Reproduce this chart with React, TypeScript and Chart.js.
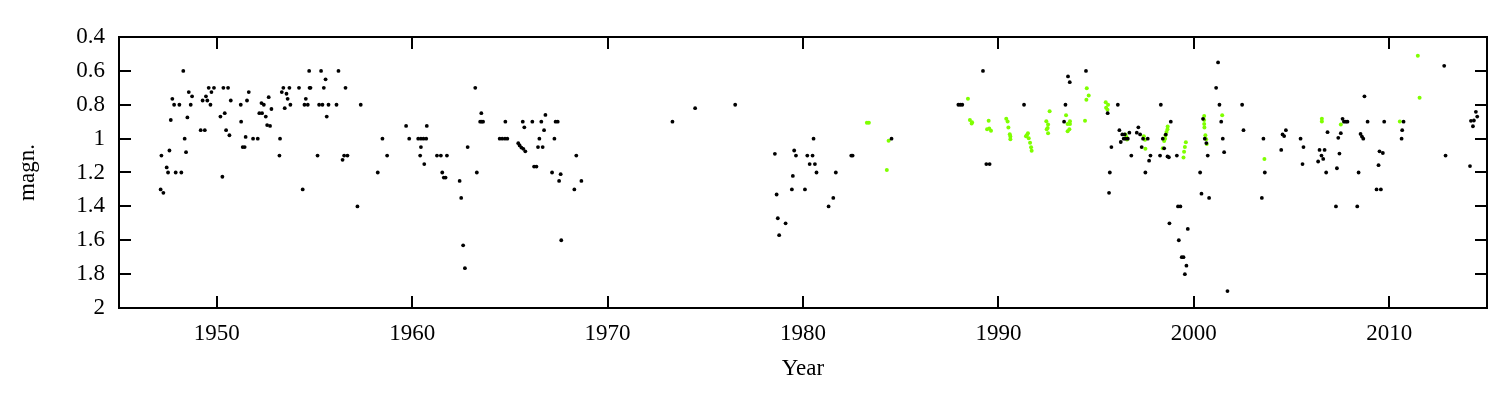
import React, { useEffect, useRef } from "react";
import { Chart, registerables } from "chart.js";

Chart.register(...registerables);

// X axis: year, Y axis: magnitude (reversed)
const xTickValues = [1950, 1960, 1970, 1980, 1990, 2000, 2010];
const yTickValues = [0.4, 0.6, 0.8, 1, 1.2, 1.4, 1.6, 1.8, 2];
const yTickLabels = ["0.4", "0.6", "0.8", "1", "1.2", "1.4", "1.6", "1.8", "2"];

// Black series
const blackYear = [
  1947.13, 1947.27, 1947.17, 1947.44, 1947.51, 1947.58, 1947.65, 1947.73, 1947.82, 1947.90,
  1948.09, 1948.19, 1948.29, 1948.36, 1948.43, 1948.50, 1948.57, 1948.67, 1948.74, 1949.18,
  1949.39, 1949.28, 1949.45, 1949.52, 1949.59, 1949.73, 1949.68, 1949.86, 1950.19, 1950.29,
  1950.34, 1950.41, 1950.48, 1950.58, 1950.65, 1950.72, 1951.23, 1951.25, 1951.33, 1951.43,
  1951.48, 1951.55, 1951.64, 1951.86, 1952.10, 1952.18, 1952.32, 1952.29, 1952.41, 1952.51,
  1952.58, 1952.73, 1952.66, 1952.80, 1953.21, 1953.24, 1953.33, 1953.41, 1953.48, 1953.57,
  1953.63, 1953.72, 1953.77, 1954.21,
  1954.40, 1954.56, 1954.49, 1954.66, 1954.73, 1954.75, 1954.80, 1955.16, 1955.24, 1955.41,
  1955.34, 1955.48, 1955.57, 1955.63, 1955.72, 1956.13, 1956.23, 1956.44, 1956.52, 1956.69,
  1956.59, 1957.20, 1957.37, 1958.24, 1958.48, 1958.72, 1959.69, 1959.85, 1960.31, 1960.45,
  1960.58, 1960.72, 1960.75, 1960.45, 1960.41, 1960.62, 1961.27, 1961.47, 1961.78, 1961.54,
  1961.62, 1961.71, 1962.43, 1962.51, 1962.84, 1962.61, 1962.70, 1963.23, 1963.31,
  1963.54, 1963.48, 1963.56, 1963.63, 1964.77, 1964.48, 1964.61, 1964.75, 1964.87, 1965.43,
  1965.50, 1965.59, 1965.69, 1965.79, 1965.66, 1965.74, 1966.15, 1966.24, 1966.36, 1966.51,
  1966.44, 1966.68, 1966.61, 1966.75, 1966.82, 1967.34, 1967.45, 1967.28, 1967.16, 1967.52,
  1967.60, 1967.63, 1968.30, 1968.40, 1968.66,
  1973.32, 1974.48, 1976.53,
  1978.56, 1978.65, 1978.71, 1978.78, 1979.11, 1979.43, 1979.48, 1979.55, 1979.64, 1980.10,
  1980.22, 1980.49, 1980.34, 1980.61, 1980.54, 1980.69, 1981.31, 1981.55, 1981.68, 1982.47,
  1982.54, 1984.53,
  1987.95, 1988.05, 1988.15, 1989.21, 1989.38, 1989.55, 1991.31, 1993.43, 1993.36, 1993.56,
  1993.65, 1994.48, 1995.59, 1995.70, 1995.66,
  1995.78, 1996.11, 1996.19, 1996.26, 1996.34, 1996.46, 1996.41, 1996.50, 1996.62, 1996.70,
  1996.80, 1997.08, 1997.16, 1997.25, 1997.40, 1997.33, 1997.52, 1997.64, 1997.71, 1997.78,
  1998.31, 1998.27, 1998.41, 1998.48, 1998.56, 1998.65, 1998.72, 1998.82, 1999.13, 1999.19,
  1999.31, 1998.75, 1999.23, 1999.69, 1999.38, 1999.47, 1999.62, 1999.54, 2000.32, 2000.39,
  2000.78, 2000.47, 2000.56, 2000.64, 2000.71, 2001.14, 2001.24, 2001.31, 2001.40, 2001.48,
  2001.55, 2001.72, 2002.47, 2002.54,
  2003.48, 2003.56, 2003.63, 2004.47, 2004.54, 2004.62, 2004.71, 2005.46, 2005.56, 2005.61,
  2006.36, 2006.43, 2006.69, 2006.53, 2006.62, 2006.77, 2006.84, 2007.27, 2007.32, 2007.39,
  2007.45, 2007.52, 2007.61, 2007.68, 2007.78, 2007.86, 2008.36, 2008.43, 2008.53, 2008.60,
  2008.67, 2008.73, 2008.89, 2009.35, 2009.57, 2009.45, 2009.50, 2009.67, 2009.74, 2010.63,
  2010.66, 2010.73, 2012.81, 2012.88, 2014.13, 2014.18, 2014.33, 2014.28, 2014.43, 2014.50,
];
const blackMag = [
  1.30, 1.32, 1.10, 1.17, 1.20, 1.07, 0.89, 0.765, 0.80, 1.20,
  0.80, 1.20, 0.60, 1.00, 1.08, 0.875, 0.725, 0.80, 0.75, 0.95,
  0.95, 0.775, 0.75, 0.775, 0.70, 0.725, 0.80, 0.70, 0.87, 1.225,
  0.70, 0.85, 0.95, 0.70, 0.98, 0.775, 0.80, 0.90, 1.05, 1.05,
  0.99, 0.775, 0.725, 1.00, 1.00, 0.85, 0.85, 0.79, 0.80, 0.87,
  0.92, 0.925, 0.755, 0.825, 1.10, 1.00, 0.725, 0.70, 0.82, 0.735,
  0.765, 0.70, 0.80, 0.70,
  1.30, 0.765, 0.80, 0.80, 0.60, 0.70, 0.70, 1.10, 0.80, 0.80,
  0.60, 0.70, 0.65, 0.87, 0.80, 0.80, 0.60, 1.125, 1.10, 1.10,
  0.70, 1.40, 0.80, 1.20, 1.00, 1.10, 0.925, 1.00, 1.00, 1.00,
  1.00, 1.00, 0.925, 1.05, 1.10, 1.15, 1.10, 1.10, 1.10, 1.20,
  1.23, 1.23, 1.25, 1.35, 1.05, 1.63, 1.765, 0.70, 1.20,
  0.85, 0.90, 0.90, 0.90, 0.90, 1.00, 1.00, 1.00, 1.00, 1.027,
  1.04, 1.053, 1.06, 1.075, 0.90, 0.933, 0.90, 1.165, 1.165, 1.00,
  1.05, 1.05, 0.90, 0.95, 0.86, 0.90, 0.90, 1.00, 1.20, 1.25,
  1.21, 1.60, 1.30, 1.10, 1.25,
  0.90, 0.82, 0.80,
  1.09, 1.33, 1.47, 1.57, 1.50, 1.30, 1.22, 1.07, 1.10, 1.30,
  1.10, 1.10, 1.15, 1.15, 1.00, 1.20, 1.40, 1.35, 1.20, 1.10,
  1.10, 1.00,
  0.80, 0.80, 0.80, 0.60, 1.15, 1.15, 0.80, 0.80, 0.90, 0.633,
  0.667, 0.60, 0.85, 1.20, 1.32,
  1.05, 0.80, 0.95, 1.02, 0.975, 0.975, 1.00, 1.00, 1.00, 0.965,
  1.10, 0.965, 0.933, 0.975, 1.00, 1.05, 1.20, 1.00, 1.13, 1.10,
  0.80, 1.10, 1.00, 1.057, 0.976, 1.105, 1.11, 0.90, 1.10, 1.40,
  1.40, 1.50, 1.60, 1.533, 1.70, 1.70, 1.75, 1.80, 1.20, 1.325,
  1.35, 0.883, 1.00, 1.026, 1.10, 0.70, 0.55, 0.80, 0.90, 1.00,
  1.08, 1.90, 0.80, 0.95,
  1.35, 1.00, 1.20, 1.067, 0.975, 0.985, 0.95, 1.00, 1.15, 1.05,
  1.135, 1.067, 1.067, 1.10, 1.12, 1.20, 0.962, 1.40, 1.175, 0.995,
  1.088, 0.968, 0.883, 0.90, 0.90, 0.90, 1.40, 1.20, 0.972, 0.988,
  1.00, 0.75, 0.90, 1.30, 1.30, 1.157, 1.075, 1.085, 0.90, 1.00,
  0.95, 0.90, 0.57, 1.10, 1.162, 0.895, 0.893, 0.927, 0.842, 0.87,
];

// Green series
const greenYear = [
  1983.27, 1983.37, 1984.38, 1984.29, 1988.44, 1988.54, 1988.65, 1988.63, 1989.50, 1989.42,
  1989.53, 1989.62, 1990.40, 1990.47, 1990.51, 1990.58, 1990.61, 1990.61, 1991.41, 1991.45,
  1991.51, 1991.55, 1991.62, 1991.67, 1991.70, 1992.62, 1992.45, 1992.54, 1992.52, 1992.47,
  1992.54, 1993.46, 1993.54, 1993.66, 1993.66, 1993.63, 1993.54, 1994.52, 1994.62, 1994.50,
  1994.43, 1995.49, 1995.61, 1995.51, 1995.58, 1996.50, 1996.55, 1996.58, 1997.44, 1997.50,
  1997.52, 1998.66, 1998.65, 1998.60, 1998.55, 1998.53, 1998.48, 1998.41, 1999.59, 1999.54,
  1999.50, 1999.47, 2000.53, 2000.53, 2000.53, 2000.54, 2000.59, 2000.63, 2000.66, 2001.45,
  2003.61, 2006.55, 2006.55, 2007.52, 2010.54, 2011.46, 2011.55,
];
const greenMag = [
  0.907, 0.907, 1.013, 1.185, 0.765, 0.89, 0.903, 0.91, 0.895, 0.944,
  0.94, 0.954, 0.883, 0.899, 0.935, 0.974, 0.988, 1.004, 0.986, 0.98,
  0.968, 0.998, 1.025, 1.051, 1.072, 0.838, 0.897, 0.917, 0.937, 0.944,
  0.968, 0.862, 0.913, 0.913, 0.897, 0.944, 0.956, 0.702, 0.746, 0.771,
  0.895, 0.785, 0.80, 0.818, 0.83, 0.975, 0.99, 1.005, 0.986, 1.006,
  1.06, 0.929, 0.945, 0.961, 0.98, 1.0, 1.014, 1.057, 1.022, 1.049,
  1.077, 1.112, 0.866, 0.89, 0.913, 0.935, 0.98, 1.004, 1.031, 0.862,
  1.12, 0.883, 0.899, 0.917, 0.899, 0.511, 0.759,
];

const FONT = "'Liberation Serif', 'Times New Roman', serif";

const framePlugin = {
  id: "frame",
  afterDatasetsDraw(chart: any) {
    const { ctx, chartArea, scales } = chart;
    const { left, right, top, bottom } = chartArea;
    const tl = 12;
    ctx.save();
    ctx.strokeStyle = "#000";
    ctx.lineWidth = 2;
    ctx.beginPath();
    xTickValues.forEach((v) => {
      const x = Math.round(scales.x.getPixelForValue(v));
      ctx.moveTo(x, bottom);
      ctx.lineTo(x, bottom - tl);
      ctx.moveTo(x, top);
      ctx.lineTo(x, top + tl);
    });
    yTickValues.forEach((v) => {
      const y = Math.round(scales.y.getPixelForValue(v));
      ctx.moveTo(left, y);
      ctx.lineTo(left + tl, y);
      ctx.moveTo(right, y);
      ctx.lineTo(right - tl, y);
    });
    ctx.stroke();
    ctx.strokeRect(left, top, right - left, bottom - top);
    ctx.restore();
  },
};

export default function App() {
  const ref = useRef<HTMLCanvasElement>(null);
  useEffect(() => {
    if (!ref.current) return;
    const black = blackYear.map((x, i) => ({ x, y: blackMag[i] }));
    const green = greenYear.map((x, i) => ({ x, y: greenMag[i] }));
    const chart = new Chart(ref.current, {
      type: "scatter",
      data: {
        datasets: [
          {
            data: black,
            backgroundColor: "#000",
            borderWidth: 0,
            pointRadius: 1.9,
            pointBorderWidth: 0,
          },
          {
            data: green,
            backgroundColor: "#7fff00",
            borderWidth: 0,
            pointRadius: 2,
            pointBorderWidth: 0,
          },
        ],
      },
      options: {
        animation: false,
        responsive: false,
        events: [],
        layout: { padding: { top: 37, right: 13, left: 0, bottom: 0 } },
        plugins: { legend: { display: false }, tooltip: { enabled: false } },
        scales: {
          x: {
            type: "linear",
            min: 1945,
            max: 2015,
            grid: { display: false, drawTicks: false },
            border: { display: false },
            afterBuildTicks: (s: any) => {
              s.ticks = xTickValues.map((v) => ({ value: v }));
            },
            afterFit: (s: any) => {
              s.height = 85;
            },
            ticks: {
              padding: 12,
              color: "#000",
              font: { family: FONT, size: 23 },
              maxRotation: 0,
              callback: (v: any) => String(v),
            },
            title: {
              display: true,
              text: "Year",
              color: "#000",
              font: { family: FONT, size: 23 },
              padding: { top: 0, bottom: 10 },
            },
          },
          y: {
            type: "linear",
            min: 0.4,
            max: 2,
            reverse: true,
            grid: { display: false, drawTicks: false },
            border: { display: false },
            afterBuildTicks: (s: any) => {
              s.ticks = yTickValues.map((v) => ({ value: v }));
            },
            afterFit: (s: any) => {
              s.width = 119;
            },
            ticks: {
              padding: 14,
              color: "#000",
              font: { family: FONT, size: 23 },
              callback: (_v: any, i: number) => yTickLabels[i],
            },
            title: {
              display: true,
              text: "magn.",
              color: "#000",
              font: { family: FONT, size: 23 },
              padding: { top: 14, bottom: 0 },
            },
          },
        },
      },
      plugins: [framePlugin],
    });
    return () => chart.destroy();
  }, []);
  return (
    <div style={{ position: "absolute", left: 0, top: 0, width: 1500, height: 393, background: "#fff" }}>
      <canvas ref={ref} width={1500} height={393} style={{ display: "block" }} />
    </div>
  );
}
